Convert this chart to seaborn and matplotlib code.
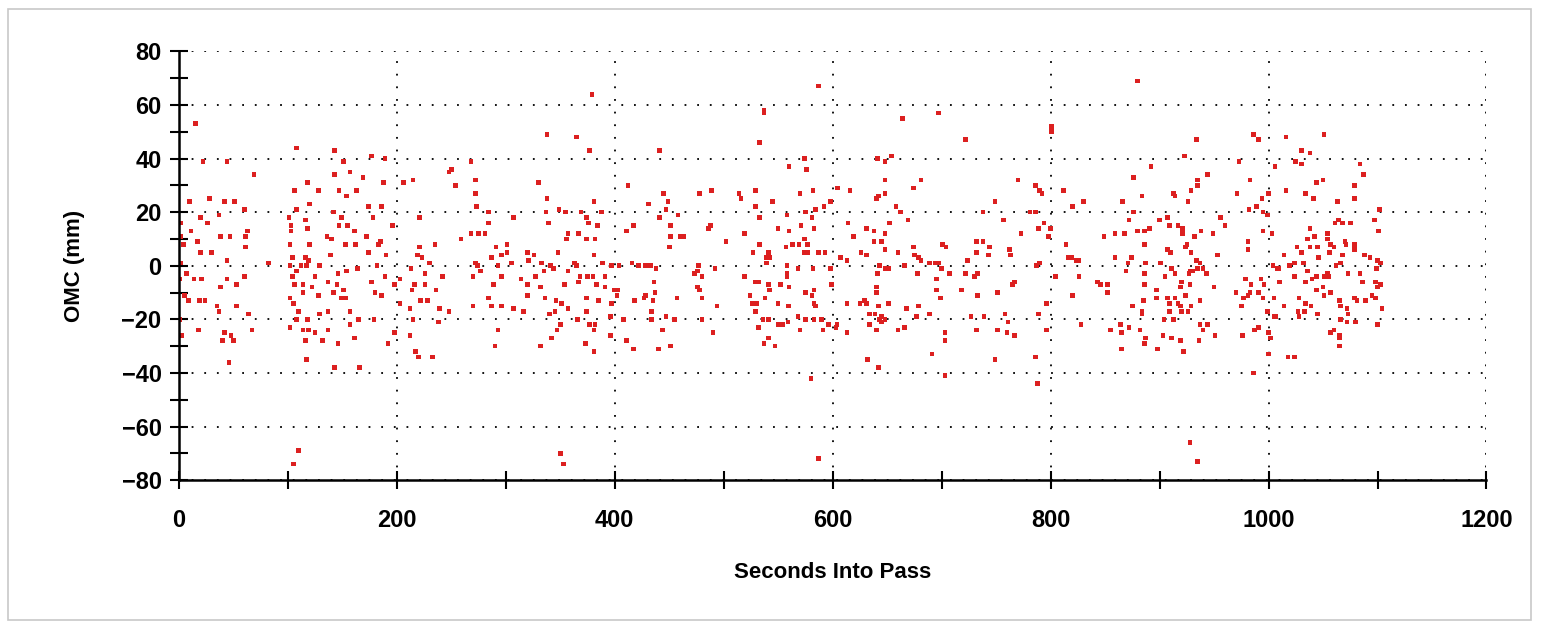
import matplotlib
matplotlib.use("Agg")
import matplotlib.pyplot as plt
import numpy as np
import pandas as pd
import seaborn as sns
from matplotlib.patches import Rectangle
from matplotlib.ticker import MultipleLocator

# (seconds into pass, OMC mm), one list per ~200 s window
pts_0_200 = [
    (15, 53), (22, 39), (44, 39), (69, 34), (10, 24), (28, 25), (42, 24), (51, 24),
    (20, 18), (26, 16), (37, 19), (60, 21), (2, 16), (11, 13), (2, 11), (4, 8),
    (17, 9), (20, 5), (30, 5), (38, 11), (47, 11), (61, 11), (63, 13), (61, 7),
    (44, 2), (2, 1), (7, -3), (14, -5), (21, -5), (44, -5), (53, -7), (60, -4),
    (38, -8), (5, -11), (9, -13), (19, -13), (24, -13), (35, -15), (37, -17), (53, -15),
    (64, -18), (67, -24), (18, -24), (42, -25), (48, -26), (50, -28), (40, -28), (46, -36),
    (82, 1), (1, -20), (3, -26), (1, -5),
    (108, 44), (143, 43), (151, 39), (177, 41), (189, 40), (157, 35), (143, 34), (169, 33),
    (118, 31), (106, 28), (128, 28), (147, 28), (154, 26), (163, 28), (188, 31), (120, 23),
    (108, 21), (174, 22), (186, 22), (101, 18), (116, 17), (142, 20), (149, 18), (178, 18),
    (196, 15), (103, 15), (118, 14), (147, 15), (155, 15), (161, 13), (136, 11), (103, 13),
    (140, 10), (172, 11), (185, 9), (183, 8), (102, 8), (120, 8), (153, 8), (162, 8),
    (139, 4), (174, 5), (190, 4), (104, 3), (116, 3), (119, 2), (102, 0), (112, 0),
    (117, 0), (129, 0), (146, -3), (154, -2), (164, -1), (182, 0), (108, -2), (104, -4),
    (125, -4), (137, -6), (189, -4), (198, -7), (106, -7), (114, -7), (122, -8), (145, -7),
    (177, -6), (114, -10), (142, -10), (151, -9), (102, -12), (105, -14), (128, -11), (149, -12),
    (153, -12), (180, -10), (186, -11), (137, -17), (129, -18), (110, -17), (157, -17), (108, -20),
    (118, -20), (165, -20), (179, -20), (102, -23), (114, -24), (119, -24), (125, -25), (137, -24),
    (157, -22), (116, -28), (132, -28), (146, -29), (161, -27), (192, -29), (198, -25), (117, -35),
    (143, -38), (166, -38), (110, -69), (105, -74),
]

pts_200_400 = [
    (379, 64), (338, 49), (365, 48), (377, 43), (268, 39), (250, 36), (248, 35), (272, 32),
    (254, 30), (272, 27), (273, 22), (206, 31), (215, 32), (330, 31), (338, 25), (381, 24),
    (349, 21), (355, 20), (337, 20), (369, 20), (374, 18), (388, 20), (284, 20), (221, 18),
    (307, 18), (284, 16), (339, 16), (376, 16), (384, 15), (357, 12), (367, 12), (356, 10),
    (374, 10), (382, 10), (381, 4), (259, 10), (268, 12), (275, 12), (281, 12), (235, 8),
    (221, 7), (219, 4), (223, 3), (301, 8), (291, 7), (301, 5), (296, 4), (320, 5),
    (326, 4), (348, 5), (287, 3), (305, 1), (230, 1), (272, 1), (274, 0), (293, 0),
    (321, 2), (333, 1), (341, 0), (363, 1), (365, 0), (389, 1), (397, 0), (213, -1),
    (226, -3), (242, -4), (270, -4), (277, -2), (296, -4), (314, -5), (327, -4), (335, -2),
    (344, -1), (357, -2), (368, -4), (375, -4), (380, -4), (391, -4), (203, -5), (216, -7),
    (226, -7), (214, -9), (236, -9), (289, -7), (320, -7), (332, -8), (354, -7), (367, -6),
    (383, -7), (391, -8), (400, -9), (320, -11), (336, -12), (346, -13), (351, -14), (374, -12),
    (385, -13), (397, -14), (222, -13), (228, -13), (203, -14), (212, -16), (270, -15), (284, -12),
    (287, -15), (296, -15), (307, -16), (316, -17), (239, -16), (248, -17), (340, -18), (345, -17),
    (357, -16), (366, -20), (374, -17), (350, -22), (377, -22), (382, -22), (396, -19), (215, -20),
    (238, -21), (293, -24), (347, -24), (381, -24), (342, -27), (396, -26), (198, -25), (212, -26),
    (290, -30), (332, -30), (373, -29), (381, -32), (217, -32), (220, -34), (233, -34), (350, -70),
    (353, -74),
]

pts_400_600 = [
    (587, 67), (537, 58), (537, 57), (533, 46), (441, 43), (574, 40), (576, 36), (560, 37),
    (604, 29), (412, 30), (445, 27), (449, 24), (478, 27), (489, 28), (514, 27), (516, 25),
    (529, 28), (545, 24), (570, 27), (582, 28), (431, 23), (447, 21), (458, 19), (441, 18),
    (529, 22), (533, 18), (558, 19), (575, 20), (584, 21), (592, 22), (581, 18), (598, 24),
    (411, 13), (417, 15), (451, 15), (488, 15), (486, 14), (550, 14), (560, 13), (571, 15),
    (583, 14), (519, 12), (451, 11), (460, 11), (463, 11), (574, 10), (450, 7), (502, 9),
    (533, 8), (557, 7), (563, 8), (569, 8), (577, 8), (574, 5), (577, 5), (587, 5),
    (593, 5), (527, 5), (541, 5), (539, 3), (542, 3), (539, 1), (404, 0), (416, 1),
    (422, 0), (428, 0), (433, 0), (438, -1), (477, 0), (492, -1), (558, 0), (568, -1),
    (582, -1), (598, -1), (558, -3), (558, -4), (473, -3), (476, -2), (480, -4), (519, -4),
    (436, -6), (403, -9), (402, -11), (476, -8), (478, -9), (437, -10), (529, -6), (532, -6),
    (541, -7), (542, -9), (552, -7), (560, -8), (575, -10), (583, -9), (581, -11), (599, -7),
    (418, -13), (427, -12), (428, -11), (435, -13), (457, -12), (480, -12), (524, -11), (526, -14),
    (530, -14), (538, -12), (550, -14), (560, -15), (559, -15), (583, -14), (584, -15), (494, -15),
    (434, -17), (529, -17), (408, -20), (434, -20), (447, -19), (455, -20), (480, -20), (536, -20),
    (541, -20), (568, -19), (575, -20), (583, -20), (590, -20), (444, -24), (550, -22), (554, -22),
    (559, -21), (570, -24), (591, -24), (596, -22), (604, -22), (532, -23), (490, -25), (411, -28),
    (417, -31), (440, -31), (451, -30), (541, -27), (537, -29), (547, -30), (580, -42), (587, -72),
]

pts_600_800 = [
    (697, 57), (664, 55), (722, 47), (801, 52), (801, 50), (641, 40), (648, 39), (654, 41),
    (648, 32), (681, 32), (674, 29), (605, 29), (616, 28), (642, 26), (640, 25), (648, 27),
    (658, 22), (662, 20), (669, 17), (770, 32), (786, 30), (790, 28), (792, 27), (749, 24),
    (738, 20), (757, 17), (781, 20), (786, 20), (789, 14), (794, 16), (800, 14), (773, 12),
    (798, 11), (614, 16), (619, 11), (631, 14), (638, 13), (652, 16), (648, 12), (638, 9),
    (645, 9), (648, 6), (626, 5), (631, 4), (660, 5), (607, 3), (613, 2), (701, 8),
    (704, 7), (674, 7), (675, 4), (679, 3), (681, 2), (689, 1), (694, 1), (697, 1),
    (700, -1), (732, 9), (738, 9), (732, 5), (744, 7), (743, 4), (762, 6), (763, 4),
    (724, 2), (643, 0), (666, 0), (648, -1), (641, -3), (651, -1), (787, 0), (790, 1),
    (804, -4), (707, -3), (678, -3), (722, -3), (730, -4), (733, -3), (695, -5), (767, -6),
    (765, -7), (640, -8), (640, -10), (695, -9), (718, -9), (699, -12), (733, -11), (751, -10),
    (613, -14), (625, -14), (629, -13), (631, -14), (651, -14), (642, -15), (679, -15), (668, -16),
    (796, -14), (634, -18), (639, -18), (645, -19), (643, -20), (648, -20), (645, -21), (677, -19),
    (689, -18), (727, -19), (739, -19), (758, -18), (761, -21), (789, -18), (603, -23), (634, -22),
    (640, -24), (660, -24), (666, -23), (613, -25), (703, -25), (703, -28), (732, -24), (751, -24),
    (760, -25), (767, -26), (796, -24), (691, -33), (632, -35), (642, -38), (749, -35), (786, -34),
    (703, -41), (788, -44),
]

pts_800_1000 = [
    (880, 69), (934, 47), (986, 49), (991, 47), (923, 41), (892, 37), (973, 39), (876, 33),
    (944, 34), (935, 32), (935, 30), (983, 32), (812, 28), (830, 24), (820, 22), (866, 24),
    (884, 26), (913, 27), (914, 26), (929, 28), (926, 24), (971, 27), (994, 25), (989, 22),
    (982, 21), (995, 20), (876, 20), (872, 17), (900, 17), (907, 18), (909, 15), (917, 15),
    (921, 14), (956, 18), (960, 15), (880, 13), (886, 13), (891, 14), (849, 11), (859, 12),
    (868, 12), (921, 12), (932, 11), (938, 13), (949, 12), (925, 8), (924, 7), (929, 5),
    (886, 8), (814, 8), (907, 6), (910, 5), (953, 4), (981, 9), (981, 6), (995, 13),
    (816, 3), (819, 3), (824, 2), (826, 2), (859, 3), (874, 3), (871, 1), (887, 1),
    (901, 1), (911, -1), (934, 2), (937, 1), (940, -1), (935, -1), (928, -2), (927, -3),
    (930, -2), (943, -3), (905, -4), (914, -3), (869, -2), (886, -3), (805, -4), (826, -4),
    (843, -6), (846, -7), (852, -7), (886, -7), (920, -6), (928, -7), (950, -8), (979, -5),
    (984, -7), (993, -5), (996, -7), (897, -9), (919, -8), (852, -10), (820, -11), (885, -13),
    (897, -12), (907, -12), (914, -12), (917, -14), (919, -15), (924, -11), (929, -15), (937, -13),
    (970, -10), (977, -12), (981, -11), (983, -10), (991, -10), (995, -12), (875, -15), (909, -14),
    (884, -17), (884, -18), (909, -17), (920, -17), (926, -17), (975, -15), (999, -17), (828, -22),
    (864, -22), (872, -23), (904, -20), (913, -20), (937, -22), (944, -22), (855, -24), (882, -24),
    (940, -24), (987, -24), (991, -23), (865, -25), (903, -26), (951, -26), (976, -26), (887, -27),
    (886, -29), (911, -27), (919, -28), (936, -28), (865, -31), (898, -31), (922, -32), (986, -40),
    (928, -66), (935, -73),
]

pts_1000_1100 = [
    (1006, 37), (1000, 27), (999, 19), (1003, 12), (1004, 0), (1008, -1), (1005, -12), (1005, -19),
    (1000, -25), (1002, -27), (1000, -33), (1016, 48), (1051, 49), (1030, 43), (1025, 39), (1030, 38),
    (1038, 42), (1084, 38), (1087, 34), (1044, 31), (1050, 32), (1079, 30), (1016, 28), (1034, 27),
    (1041, 25), (1063, 24), (1079, 25), (1102, 21), (1097, 17), (1101, 13), (1061, 16), (1064, 17),
    (1068, 16), (1075, 16), (1038, 14), (1042, 11), (1054, 12), (1054, 10), (1070, 9), (1071, 8),
    (1036, 10), (1057, 8), (1060, 7), (1079, 8), (1079, 6), (1026, 7), (1030, 5), (1038, 7),
    (1045, 7), (1046, 3), (1056, 5), (1068, 4), (1088, 4), (1093, 3), (1014, 4), (1100, 2),
    (1103, 1), (1099, -1), (1019, 0), (1024, 1), (1009, -1), (1032, 1), (1062, 0), (1066, 1),
    (1036, -2), (1024, -4), (1044, -4), (1040, -5), (1034, -6), (1051, -4), (1054, -3), (1055, -4),
    (1073, -3), (1084, -3), (1086, -6), (1098, -6), (1100, -8), (1103, -7), (1010, -6), (1044, -9),
    (1050, -8), (1057, -10), (1051, -11), (1028, -12), (1079, -12), (1081, -13), (1089, -13), (1095, -11),
    (1098, -12), (1014, -15), (1034, -14), (1065, -13), (1066, -15), (1072, -16), (1027, -17), (1033, -17),
    (1039, -15), (1045, -18), (1104, -16), (1007, -19), (1028, -19), (1066, -20), (1072, -21), (1073, -18),
    (1080, -21), (1100, -22), (1057, -25), (1060, -24), (1065, -26), (1065, -27), (1065, -30), (1018, -34),
    (1024, -34),
]

x_ticks = [0, 200, 400, 600, 800, 1000, 1200]
y_ticks = [-80, -60, -40, -20, 0, 20, 40, 60, 80]
y_tick_labels = ["\u221280", "\u221260", "\u221240", "\u221220", "0", "20", "40", "60", "80"]

all_pts = pts_0_200 + pts_200_400 + pts_400_600 + pts_600_800 + pts_800_1000 + pts_1000_1100
df = pd.DataFrame(all_pts, columns=["seconds", "omc"])

sns.set_style("white")
plt.rcParams["font.family"] = ["Liberation Sans", "DejaVu Sans"]
plt.rcParams["text.color"] = "black"
plt.rcParams["axes.labelcolor"] = "black"
plt.rcParams["xtick.color"] = "black"
plt.rcParams["ytick.color"] = "black"

fig = plt.figure(figsize=(15.42, 6.26), dpi=100)
fig.patch.set_facecolor("white")
# light frame around the whole picture, like the screenshot
fig.add_artist(Rectangle((0.005, 0.010), 0.988, 0.975, transform=fig.transFigure,
                         fill=False, edgecolor="#c8c8c8", linewidth=1.2))

ax = fig.add_axes([0.116, 0.233, 0.848, 0.685])
ax.set_facecolor("white")

sns.scatterplot(data=df, x="seconds", y="omc", ax=ax, marker="s", s=11,
                color="#dc2020", edgecolor="none", linewidth=0, legend=False)

ax.set_xlim(0, 1200)
ax.set_ylim(-80, 80)
ax.set_xticks(x_ticks)
ax.set_yticks(y_ticks)
ax.set_yticklabels(y_tick_labels)
ax.xaxis.set_minor_locator(MultipleLocator(100))
ax.yaxis.set_minor_locator(MultipleLocator(10))

ax.grid(True, which="major", color="black", linestyle=(0, (1, 6)), linewidth=1.3)
for side in ["top", "right"]:
    ax.spines[side].set_visible(False)
for side in ["left", "bottom"]:
    ax.spines[side].set_color("black")
    ax.spines[side].set_linewidth(1.8)

ax.tick_params(which="both", direction="inout", length=13, width=1.5, color="black",
               bottom=True, left=True)
ax.tick_params(axis="y", which="major", labelsize=17, pad=6)
ax.tick_params(axis="x", which="major", labelsize=17, pad=14)
for lbl in ax.get_xticklabels() + ax.get_yticklabels():
    lbl.set_fontweight("bold")

ax.set_xlabel("Seconds Into Pass", fontsize=16, fontweight="bold", labelpad=22)
ax.set_ylabel("OMC (mm)", fontsize=16, fontweight="bold", labelpad=26)

fig.savefig("out.png", dpi=100, facecolor="white")
